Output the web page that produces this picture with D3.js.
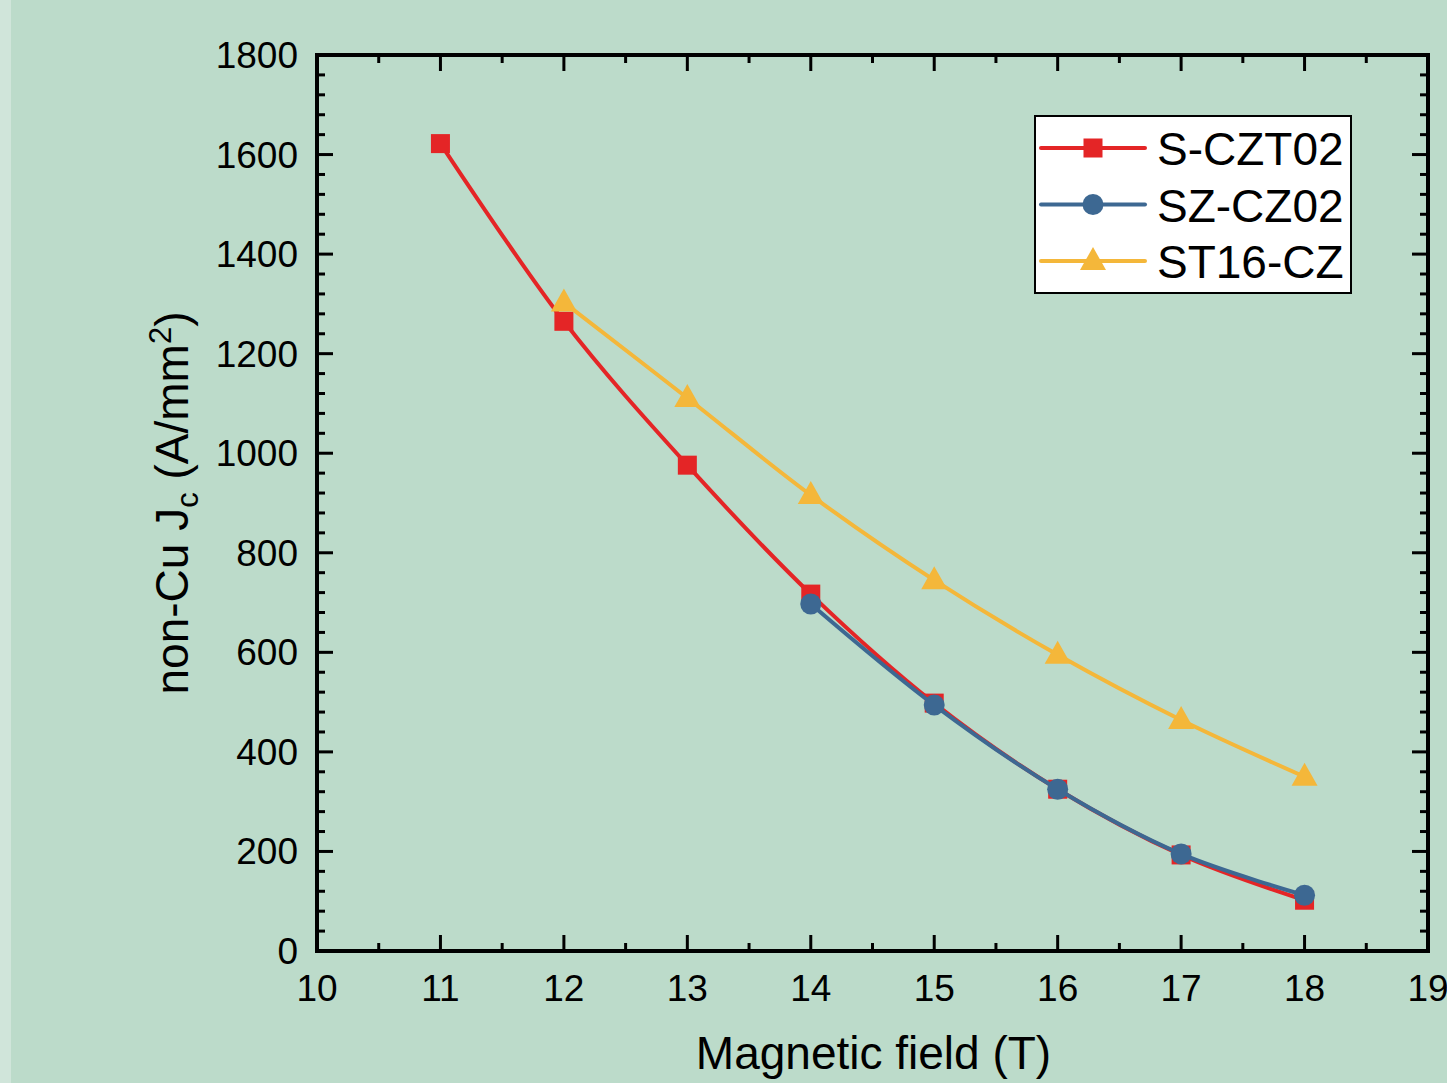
<!DOCTYPE html>
<html lang="en">
<head>
  <meta charset="UTF-8" />
  <title>non-Cu Jc vs magnetic field</title>
  <script src="https://d3js.org/d3.v7.min.js"></script>
  <style>
    body {
      margin: 0;
      background: #bcdbca;
      font-family: "Liberation Sans", Arial, sans-serif;
    }
    svg { display: block; }
    .tick-label { font-size: 37px; fill: #000; }
    .axis-title { font-size: 46px; fill: #000; }
    .legend-text { font-size: 46px; fill: #000; }
  </style>
</head>
<body>
<svg width="1447" height="1083"></svg>
<script>
// data
const fields = [11, 12, 13, 14, 15, 16, 17, 18];
const sczt02 = [1622, 1265, 976, 717, 498, 325, 193, 102];
const szFields = [14, 15, 16, 17, 18];
const szcz02 = [697, 494, 325, 195, 112];
const stFields = [12, 13, 14, 15, 16, 17, 18];
const st16cz = [1303, 1111, 916, 745, 595, 464, 350];

const xTicks = [10, 11, 12, 13, 14, 15, 16, 17, 18, 19];
const yTicks = [0, 200, 400, 600, 800, 1000, 1200, 1400, 1600, 1800];

const series = [
  { name: "S-CZT02", xs: fields, ys: sczt02, color: "#e42526", shape: "square" },
  { name: "SZ-CZ02", xs: szFields, ys: szcz02, color: "#3d6892", shape: "circle" },
  { name: "ST16-CZ", xs: stFields, ys: st16cz, color: "#f4b73a", shape: "triangle" }
];

const svg = d3.select("svg");

// lighter strip on the far left
svg.append("rect").attr("x", 0).attr("y", 0).attr("width", 11).attr("height", 1083)
  .attr("fill", "#d0e5da");

const pLeft = 317, pRight = 1428, pTop = 55, pBottom = 951;
const x = d3.scaleLinear().domain([10, 19]).range([pLeft, pRight]);
const y = d3.scaleLinear().domain([0, 1800]).range([pBottom, pTop]);

// ticks (inward, on all four sides)
const ticks = svg.append("g").attr("stroke", "#000").attr("stroke-width", 3);
const xMinor = d3.range(10.5, 19, 1);
const yMinor = d3.range(0, 1800, 40).filter(v => v % 200 !== 0);

xTicks.forEach(v => {
  ticks.append("line").attr("x1", x(v)).attr("x2", x(v)).attr("y1", pBottom).attr("y2", pBottom - 16);
  ticks.append("line").attr("x1", x(v)).attr("x2", x(v)).attr("y1", pTop).attr("y2", pTop + 16);
});
xMinor.forEach(v => {
  ticks.append("line").attr("x1", x(v)).attr("x2", x(v)).attr("y1", pBottom).attr("y2", pBottom - 8);
  ticks.append("line").attr("x1", x(v)).attr("x2", x(v)).attr("y1", pTop).attr("y2", pTop + 8);
});
yTicks.forEach(v => {
  ticks.append("line").attr("x1", pLeft).attr("x2", pLeft + 16).attr("y1", y(v)).attr("y2", y(v));
  ticks.append("line").attr("x1", pRight).attr("x2", pRight - 16).attr("y1", y(v)).attr("y2", y(v));
});
yMinor.forEach(v => {
  ticks.append("line").attr("x1", pLeft).attr("x2", pLeft + 8).attr("y1", y(v)).attr("y2", y(v));
  ticks.append("line").attr("x1", pRight).attr("x2", pRight - 8).attr("y1", y(v)).attr("y2", y(v));
});

// frame
svg.append("rect")
  .attr("x", pLeft).attr("y", pTop)
  .attr("width", pRight - pLeft).attr("height", pBottom - pTop)
  .attr("fill", "none").attr("stroke", "#000").attr("stroke-width", 4);

// tick labels
svg.append("g").selectAll("text").data(xTicks).join("text")
  .attr("class", "tick-label")
  .attr("x", d => x(d)).attr("y", pBottom + 50)
  .attr("text-anchor", "middle")
  .text(d => d);

svg.append("g").selectAll("text").data(yTicks).join("text")
  .attr("class", "tick-label")
  .attr("x", pLeft - 19).attr("y", d => y(d) + 13)
  .attr("text-anchor", "end")
  .text(d => d);

// axis titles
svg.append("text").attr("class", "axis-title")
  .attr("x", (pLeft + pRight) / 2 + 1).attr("y", 1069)
  .attr("text-anchor", "middle")
  .text("Magnetic field (T)");

const yt = svg.append("text").attr("class", "axis-title")
  .attr("transform", `translate(188, ${(pTop + pBottom) / 2}) rotate(-90)`)
  .attr("text-anchor", "middle");
yt.append("tspan").text("non-Cu J");
yt.append("tspan").attr("font-size", 31).attr("dy", 10).text("c");
yt.append("tspan").attr("dy", -10).text(" (A/mm");
yt.append("tspan").attr("font-size", 31).attr("dy", -17).text("2");
yt.append("tspan").attr("dy", 17).text(")");

// markers
function drawMarker(g, shape, cx, cy, color) {
  if (shape === "square") {
    g.append("rect").attr("x", cx - 9.5).attr("y", cy - 9.5)
      .attr("width", 19).attr("height", 19).attr("fill", color);
  } else if (shape === "circle") {
    g.append("circle").attr("cx", cx).attr("cy", cy).attr("r", 10.5).attr("fill", color);
  } else {
    g.append("path")
      .attr("d", `M${cx},${cy - 14} L${cx + 13},${cy + 9} L${cx - 13},${cy + 9} Z`)
      .attr("fill", color);
  }
}

const line = d3.line()
  .x(d => x(d[0])).y(d => y(d[1]))
  .curve(d3.curveCatmullRom.alpha(0.5));

series.forEach(s => {
  const pts = s.xs.map((v, i) => [v, s.ys[i]]);
  const g = svg.append("g");
  g.append("path").datum(pts)
    .attr("d", line)
    .attr("fill", "none").attr("stroke", s.color).attr("stroke-width", 4);
  pts.forEach(p => drawMarker(g, s.shape, x(p[0]), y(p[1]), s.color));
});

// legend
const lg = svg.append("g");
lg.append("rect").attr("x", 1035).attr("y", 116).attr("width", 316).attr("height", 177)
  .attr("fill", "#fff").attr("stroke", "#000").attr("stroke-width", 2);
series.forEach((s, i) => {
  const ly = 148 + i * 56.5;
  lg.append("line").attr("x1", 1041).attr("x2", 1145).attr("y1", ly).attr("y2", ly)
    .attr("stroke", s.color).attr("stroke-width", 4).attr("stroke-linecap", "round");
  drawMarker(lg, s.shape, 1093, ly, s.color);
  lg.append("text").attr("class", "legend-text")
    .attr("x", 1157).attr("y", ly + 17)
    .text(s.name);
});
</script>
</body>
</html>
